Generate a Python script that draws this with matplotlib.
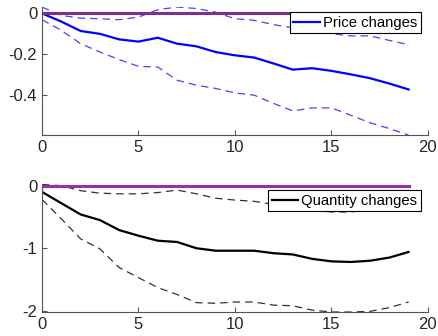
import matplotlib
matplotlib.use("Agg")
import matplotlib.pyplot as plt
import numpy as np

plt.rcParams['font.family'] = ['Liberation Sans', 'DejaVu Sans']
plt.rcParams['axes.unicode_minus'] = False

h = np.arange(20)  # horizons 0..19

# price responses
price_mid = [0, -0.04, -0.086, -0.1, -0.127, -0.138, -0.119, -0.148, -0.161, -0.189,
             -0.205, -0.216, -0.245, -0.275, -0.268, -0.281, -0.298, -0.317, -0.343, -0.372]
price_hi = [0.031, -0.01, -0.023, -0.026, -0.031, -0.018, 0.018, 0.031, 0.024, 0.006,
            -0.026, -0.034, -0.055, -0.07, -0.085, -0.099, -0.11, -0.11, -0.132, -0.153]
price_lo = [-0.031, -0.083, -0.148, -0.189, -0.226, -0.259, -0.262, -0.327, -0.351, -0.367,
            -0.389, -0.4, -0.44, -0.477, -0.462, -0.462, -0.498, -0.535, -0.563, -0.595]

# quantity responses
qty_mid = [-0.1, -0.28, -0.46, -0.55, -0.71, -0.8, -0.88, -0.9, -1.0, -1.04,
           -1.04, -1.04, -1.08, -1.1, -1.17, -1.21, -1.22, -1.2, -1.15, -1.06]
qty_hi = [0.02, 0.0, -0.08, -0.12, -0.13, -0.13, -0.11, -0.07, -0.13, -0.2,
          -0.23, -0.25, -0.3, -0.35, -0.39, -0.42, -0.42, -0.38, -0.33, -0.28]
qty_lo = [-0.22, -0.53, -0.85, -1.01, -1.31, -1.47, -1.63, -1.74, -1.87, -1.88,
          -1.86, -1.86, -1.91, -1.92, -1.99, -2.02, -2.02, -2.01, -1.95, -1.86]

zero = np.zeros(20)

fig = plt.figure(figsize=(4.39, 3.36), dpi=100)
ax1 = fig.add_axes([0.0957, 0.598, 0.879, 0.381])
ax2 = fig.add_axes([0.0957, 0.0714, 0.879, 0.381])

def style(ax):
    for s in ['top', 'right']:
        ax.spines[s].set_visible(False)
    for s in ['left', 'bottom']:
        ax.spines[s].set_color('#555555')
        ax.spines[s].set_linewidth(0.8)
    ax.tick_params(direction='in', length=3.5, width=0.8, colors='#555555',
                   labelcolor='#262626', labelsize=12)
    ax.set_xlim(0, 20)
    ax.set_xticks([0, 5, 10, 15, 20])

# top: price
ax1.plot(h, price_mid, color='#0000ff', lw=1.6, label='Price changes')
ax1.plot(h, price_hi, color='#4444ff', lw=0.9, ls=(0, (6, 4)))
ax1.plot(h, price_lo, color='#4444ff', lw=0.9, ls=(0, (6, 4)))
ax1.plot(h, zero, color='#7e2f8e', lw=2.2)
style(ax1)
ax1.set_ylim(min(price_lo), max(price_hi))
ax1.set_yticks([-0.4, -0.2, 0])
ax1.set_yticklabels(['-0.4', '-0.2', '0'])
leg1 = ax1.legend(loc='upper right', bbox_to_anchor=(0.982, 0.961), borderaxespad=0,
                  fontsize=10.7, fancybox=False, framealpha=1, edgecolor='black',
                  borderpad=0.25, handlelength=1.8, handletextpad=0.2)
leg1.get_frame().set_linewidth(0.8)

# bottom: quantity
ax2.plot(h, qty_mid, color='black', lw=1.6, label='Quantity changes')
ax2.plot(h, qty_hi, color='#333333', lw=0.9, ls=(0, (6, 4)))
ax2.plot(h, qty_lo, color='#333333', lw=0.9, ls=(0, (6, 4)))
ax2.plot(h, zero, color='#9a2fae', lw=2.2)
style(ax2)
ax2.set_ylim(min(qty_lo), 0.027)
ax2.set_yticks([-2, -1, 0])
ax2.set_yticklabels(['-2', '-1', '0'])
leg2 = ax2.legend(loc='upper right', bbox_to_anchor=(0.982, 0.953), borderaxespad=0,
                  fontsize=10.7, fancybox=False, framealpha=1, edgecolor='black',
                  borderpad=0.25, handlelength=1.8, handletextpad=0.2)
leg2.get_frame().set_linewidth(0.8)

fig.savefig('out.png', dpi=100)
